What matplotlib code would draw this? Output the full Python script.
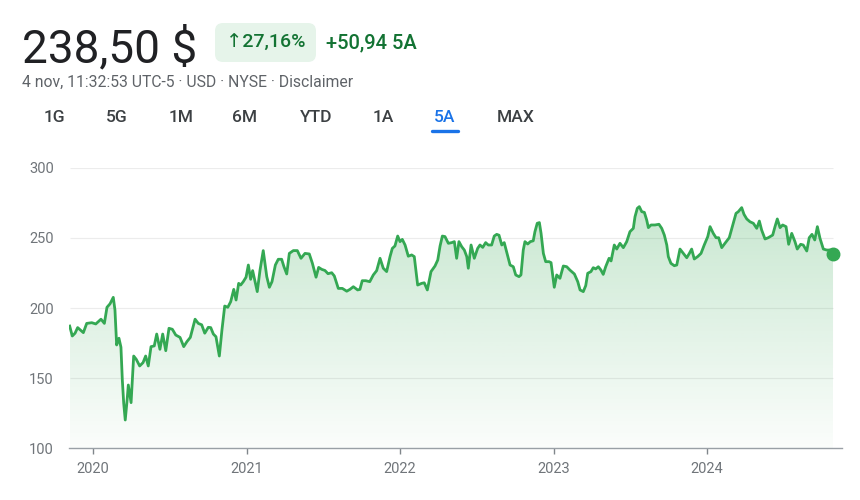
import matplotlib
matplotlib.use('Agg')
import matplotlib.pyplot as plt
import numpy as np
from matplotlib.colors import LinearSegmentedColormap, to_rgb
from matplotlib.patches import FancyBboxPatch

# weekly closes (time as decimal year)
years = [
    2019.848, 2019.865, 2019.883, 2019.900, 2019.920, 2019.937, 2019.959, 2019.992,
    2020.018, 2020.052, 2020.074, 2020.091, 2020.111, 2020.132, 2020.143, 2020.154,
    2020.169, 2020.182, 2020.191, 2020.200, 2020.210, 2020.222, 2020.230, 2020.248,
    2020.265, 2020.282, 2020.304, 2020.326, 2020.343, 2020.360, 2020.378, 2020.399,
    2020.415, 2020.436, 2020.454, 2020.474, 2020.495, 2020.517, 2020.539, 2020.567,
    2020.591, 2020.612, 2020.634, 2020.665, 2020.686, 2020.708, 2020.728, 2020.751,
    2020.767, 2020.784, 2020.801, 2020.823, 2020.840, 2020.858, 2020.878, 2020.897,
    2020.917, 2020.932, 2020.949, 2020.962, 2020.979, 2020.997, 2021.012, 2021.027,
    2021.040, 2021.057, 2021.070, 2021.088, 2021.109, 2021.132, 2021.149, 2021.166,
    2021.188, 2021.207, 2021.229, 2021.244, 2021.262, 2021.279, 2021.305, 2021.331,
    2021.355, 2021.381, 2021.409, 2021.429, 2021.453, 2021.470, 2021.490, 2021.511,
    2021.531, 2021.555, 2021.572, 2021.598, 2021.624, 2021.653, 2021.674, 2021.696,
    2021.724, 2021.739, 2021.754, 2021.777, 2021.803, 2021.826, 2021.848, 2021.870,
    2021.891, 2021.913, 2021.935, 2021.950, 2021.967, 2021.985, 2022.000, 2022.015,
    2022.033, 2022.054, 2022.076, 2022.093, 2022.115, 2022.141, 2022.158, 2022.178,
    2022.202, 2022.228, 2022.246, 2022.261, 2022.276, 2022.293, 2022.315, 2022.337,
    2022.354, 2022.369, 2022.384, 2022.402, 2022.419, 2022.435, 2022.445, 2022.463,
    2022.484, 2022.506, 2022.521, 2022.539, 2022.558, 2022.575, 2022.597, 2022.614,
    2022.630, 2022.645, 2022.663, 2022.679, 2022.697, 2022.717, 2022.738, 2022.754,
    2022.775, 2022.788, 2022.803, 2022.814, 2022.832, 2022.849, 2022.868, 2022.879,
    2022.894, 2022.908, 2022.919, 2022.934, 2022.949, 2022.971, 2022.984, 2023.005,
    2023.021, 2023.042, 2023.064, 2023.086, 2023.107, 2023.136, 2023.158, 2023.173,
    2023.194, 2023.210, 2023.223, 2023.244, 2023.259, 2023.275, 2023.292, 2023.309,
    2023.324, 2023.340, 2023.362, 2023.375, 2023.396, 2023.412, 2023.433, 2023.455,
    2023.477, 2023.498, 2023.520, 2023.531, 2023.546, 2023.559, 2023.575, 2023.592,
    2023.607, 2023.618, 2023.635, 2023.661, 2023.687, 2023.705, 2023.722, 2023.738,
    2023.748, 2023.765, 2023.787, 2023.803, 2023.824, 2023.846, 2023.868, 2023.885,
    2023.900, 2023.917, 2023.939, 2023.961, 2023.982, 2024.005, 2024.020, 2024.041,
    2024.059, 2024.076, 2024.096, 2024.117, 2024.145, 2024.171, 2024.189, 2024.204,
    2024.226, 2024.241, 2024.259, 2024.280, 2024.302, 2024.324, 2024.341, 2024.356,
    2024.378, 2024.399, 2024.428, 2024.443, 2024.458, 2024.476, 2024.493, 2024.515,
    2024.532, 2024.552, 2024.573, 2024.588, 2024.610, 2024.627, 2024.650, 2024.666,
    2024.684, 2024.702, 2024.719, 2024.736, 2024.758, 2024.780, 2024.801, 2024.821,
]
prices = [
    187.1, 180.0, 182.0, 186.0, 184.0, 182.4, 189.0, 189.5,
    188.6, 192.0, 189.0, 200.5, 203.0, 207.6, 198.6, 173.6,
    178.4, 172.0, 148.6, 132.0, 120.0, 134.0, 145.0, 132.4,
    165.7, 163.3, 158.6, 161.0, 165.7, 158.6, 172.4, 172.9,
    181.4, 170.5, 181.4, 169.5, 185.5, 184.8, 180.7, 179.0,
    172.4, 176.0, 179.0, 192.0, 189.0, 188.0, 182.0, 186.2,
    186.0, 181.4, 179.5, 165.7, 184.3, 201.4, 200.5, 204.5,
    213.3, 205.7, 217.6, 216.4, 218.8, 222.0, 230.7, 220.5,
    226.7, 218.0, 211.7, 227.0, 241.0, 222.4, 214.8, 218.8,
    230.7, 234.8, 234.8, 229.5, 224.3, 239.0, 241.0, 241.0,
    235.5, 239.0, 238.6, 232.0, 222.0, 229.0, 227.6, 226.8,
    224.5, 225.2, 222.9, 214.0, 214.0, 212.0, 213.3, 215.2,
    212.9, 213.3, 219.5, 219.5, 218.8, 223.6, 226.7, 235.5,
    228.4, 226.0, 236.7, 242.6, 244.3, 251.4, 247.4, 249.0,
    245.0, 237.0, 237.9, 236.7, 216.4, 217.6, 218.0, 212.9,
    226.0, 230.0, 234.3, 244.3, 251.4, 251.0, 246.2, 246.7,
    247.4, 235.5, 247.4, 243.8, 241.4, 236.7, 228.4, 245.0,
    235.5, 242.6, 245.0, 243.3, 246.7, 245.0, 245.0, 251.4,
    252.6, 252.0, 245.0, 246.7, 239.0, 230.7, 229.5, 223.6,
    222.4, 223.6, 241.4, 247.4, 245.7, 247.4, 248.0, 254.5,
    260.5, 261.0, 253.3, 239.0, 233.1, 233.1, 232.4, 214.8,
    223.6, 221.2, 230.0, 229.5, 227.1, 224.3, 218.8, 212.9,
    211.7, 216.0, 224.8, 226.0, 228.8, 227.9, 229.5, 227.1,
    224.0, 229.5, 235.5, 233.6, 245.0, 242.1, 246.2, 243.1,
    247.4, 254.5, 256.9, 265.2, 271.2, 272.4, 268.8, 268.3,
    262.9, 257.4, 259.3, 259.3, 259.8, 256.9, 252.1, 245.0,
    236.7, 231.9, 230.2, 230.7, 242.1, 239.0, 235.9, 239.0,
    242.1, 235.0, 236.7, 239.0, 245.0, 251.0, 258.1, 253.3,
    250.2, 250.2, 243.1, 246.2, 250.2, 260.5, 267.6, 268.8,
    271.7, 266.9, 263.6, 261.6, 260.5, 256.9, 262.1, 255.7,
    249.3, 250.2, 252.1, 258.1, 263.6, 257.4, 259.3, 258.1,
    245.5, 253.3, 247.4, 242.1, 245.5, 245.0, 240.7, 250.2,
    252.6, 248.6, 258.1, 249.8, 242.1, 241.4, 241.4, 238.5,
]

price_label = '238,50 $'
change_pct = '↑27,16%'
change_abs = '+50,94 5A'
subtitle = '4 nov, 11:32:53 UTC-5 · USD · NYSE · Disclaimer'
ranges = ['1G', '5G', '1M', '6M', 'YTD', '1A', '5A', 'MAX']
active_range = '5A'
y_ticks = [100, 150, 200, 250, 300]
x_ticks = [2020, 2021, 2022, 2023, 2024]

GREEN = '#34a853'
DARK_GREEN = '#137333'
GRAY = '#70757a'

plt.rcParams['font.family'] = ['Roboto', 'DejaVu Sans']

fig = plt.figure(figsize=(8.6, 5.0), dpi=100)

# header drawn in pixel coordinates
hdr = fig.add_axes([0, 0, 1, 1])
hdr.set_xlim(0, 860)
hdr.set_ylim(500, 0)
hdr.axis('off')

hdr.text(22, 62, price_label, fontsize=33, color='#202124', va='baseline')
hdr.add_patch(FancyBboxPatch((215, 23), 101, 39, boxstyle='round,pad=0,rounding_size=8',
                             fc='#e6f4ea', ec='none'))
hdr.text(266, 42.5, change_pct, fontsize=14, color=DARK_GREEN, fontweight='medium',
         ha='center', va='center')
hdr.text(326, 42.5, change_abs, fontsize=14.5, color=DARK_GREEN, fontweight='medium',
         va='center')
hdr.text(22, 82, subtitle, fontsize=11.3, color='#5f6368', va='center')

tab_x = [54, 117, 181, 245, 316, 383, 445, 516]
for x, r in zip(tab_x, ranges):
    c = '#1a73e8' if r == active_range else '#3c4043'
    hdr.text(x, 118, r, fontsize=12.5, color=c, fontweight='medium', ha='center', va='center')
    if r == active_range:
        hdr.plot([x - 13, x + 13], [131, 131], color=c, lw=2.4, solid_capstyle='round')

# chart area
ax = fig.add_axes([69 / 860, 1 - 448 / 500, 773 / 860, 280 / 500])
ax.set_zorder(2)
ax.patch.set_alpha(0)

x0, x1 = years[0], years[-1]
for y in y_ticks[1:]:
    ax.hlines(y, x0, x1, color='#ececec', lw=0.8, zorder=0)

poly = ax.fill_between(years, prices, 100, color='none', lw=0)
rgb = to_rgb(GREEN)
cmap = LinearSegmentedColormap.from_list('fade', [(*rgb, 0.02), (*rgb, 0.27)])
grad = np.linspace(0, 1, 256).reshape(-1, 1)
img = ax.imshow(grad, extent=[x0, x1, 100, max(prices)], origin='lower',
                aspect='auto', cmap=cmap, zorder=1, interpolation='bilinear')
img.set_clip_path(poly.get_paths()[0], transform=ax.transData)

ax.plot(years, prices, color=GREEN, lw=2.0, solid_joinstyle='round', zorder=3)
ax.plot(years[-1], prices[-1], 'o', ms=9, color=GREEN, clip_on=False, zorder=4)

ax.set_xlim(2019.8436, 2024.8795)
ax.set_ylim(100, 300)

ax.set_yticks(y_ticks)
ax.set_yticklabels([str(v) for v in y_ticks])
ax.set_xticks(x_ticks)
ax.set_xticklabels([str(v) for v in x_ticks])
ax.tick_params(axis='y', length=0, pad=11, labelsize=10.5, labelcolor=GRAY)
ax.tick_params(axis='x', length=4, width=1, color='#80868b', pad=6, labelsize=10.5,
               labelcolor=GRAY)

for s in ['top', 'right', 'left']:
    ax.spines[s].set_visible(False)
ax.spines['bottom'].set_color('#9aa0a6')
ax.spines['bottom'].set_linewidth(1)

fig.savefig('out.png', dpi=100)
